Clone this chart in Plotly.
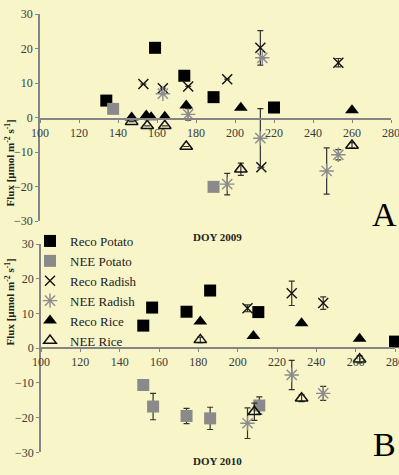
import plotly.graph_objects as go

# ---------------- DATA ----------------
# 2009 (panel A)
reco_potato_09_doy = [134, 159, 174, 189, 220]
reco_potato_09 = [4.9, 20.2, 12.1, 5.9, 2.9]

nee_potato_09_doy = [137.5, 189]
nee_potato_09 = [2.5, -20.1]

reco_radish_09_doy = [153, 163, 176, 196, 213, 213.5, 253]
reco_radish_09 = [9.7, 8.5, 9.0, 11.1, 20.2, -14.4, 15.9]
reco_radish_09_err = [0, 0, 0, 0, 5.0, 0, 1.2]

nee_radish_09_doy = [163, 176, 196, 213, 214, 247, 253]
nee_radish_09 = [6.9, 0.9, -19.3, -6.0, 17.3, -15.5, -10.8]
nee_radish_09_err = [0, 1.7, 3.1, 8.6, 0, 6.7, 1.5]

reco_rice_09_doy = [147, 154.5, 157, 164, 175, 203, 260]
reco_rice_09 = [0.0, 0.6, 0.1, 0.2, 3.5, 2.8, 2.1]

nee_rice_09_doy = [147, 155, 164, 175, 203, 260]
nee_rice_09 = [-1.2, -2.4, -2.4, -8.4, -15.0, -8.1]
nee_rice_09_err = [0, 0, 0, 0, 1.8, 0.8]

# 2010 (panel B)
reco_potato_10_doy = [152, 156.5, 174, 186, 210.5, 280]
reco_potato_10 = [6.5, 11.7, 10.5, 16.6, 10.4, 1.9]

nee_potato_10_doy = [152, 157, 174, 186, 211]
nee_potato_10 = [-10.6, -16.8, -19.5, -20.2, -16.5]
nee_potato_10_err = [0, 3.8, 2.2, 3.2, 2.5]

reco_radish_10_doy = [205, 227.5, 243.5]
reco_radish_10 = [11.5, 15.8, 13.0]
reco_radish_10_err = [1.0, 3.5, 1.8]

nee_radish_10_doy = [205, 227.5, 243.5]
nee_radish_10 = [-21.6, -7.7, -13.0]
nee_radish_10_err = [4.4, 4.2, 2.0]

reco_rice_10_doy = [181, 208, 232.5, 262]
reco_rice_10 = [7.7, 3.5, 7.2, 2.7]

nee_rice_10_doy = [181, 208.5, 232.5, 262]
nee_rice_10 = [2.4, -18.3, -14.4, -3.2]
nee_rice_10_err = [0.8, 2.5, 1.0, 1.0]

x_ticks = [100, 120, 140, 160, 180, 200, 220, 240, 260, 280]
y_ticks = [-30, -20, -10, 0, 10, 20, 30]

series_names = ["Reco Potato", "NEE Potato", "Reco Radish", "NEE Radish", "Reco Rice", "NEE Rice"]
panel_labels = ["A", "B"]
axis_titles = ["DOY 2009", "DOY 2010"]

# ---------------- STYLE ----------------
W, H = 399, 475
BG = "#f8f5c8"
SERIF = "Liberation Serif, Times New Roman, serif"
AXIS_C = "#858585"
ERR_C = "#333333"

styles = {
    "Reco Potato": dict(symbol="square", size=12, color="#000000", line=dict(width=0)),
    "NEE Potato": dict(symbol="square", size=12, color="#8a8a8a", line=dict(width=0)),
    "Reco Radish": dict(symbol="x-thin-open", size=10, color="#111111", line=dict(width=1.4, color="#111111")),
    "NEE Radish": dict(symbol="asterisk-open", size=12, color="#8c8c8c", line=dict(width=1.4, color="#8c8c8c")),
    "Reco Rice": dict(symbol="triangle-up", size=12, color="#000000", line=dict(width=0)),
    "NEE Rice": dict(symbol="triangle-up-open", size=11, color="#111111", line=dict(width=1.5, color="#111111")),
}

fig = go.Figure()

def add(name, xs, ys, errs, xa, ya, show):
    kw = {}
    if errs is not None:
        kw["error_y"] = dict(type="data", array=errs, visible=True, color=ERR_C,
                             thickness=1.2, width=3)
    fig.add_trace(go.Scatter(
        x=xs, y=ys, mode="markers", name=name, marker=styles[name],
        xaxis=xa, yaxis=ya, showlegend=show, cliponaxis=False, **kw))

panels = [
    ("x", "y", False, [
        (reco_potato_09_doy, reco_potato_09, None),
        (nee_potato_09_doy, nee_potato_09, None),
        (reco_radish_09_doy, reco_radish_09, reco_radish_09_err),
        (nee_radish_09_doy, nee_radish_09, nee_radish_09_err),
        (reco_rice_09_doy, reco_rice_09, None),
        (nee_rice_09_doy, nee_rice_09, nee_rice_09_err),
    ]),
    ("x2", "y2", True, [
        (reco_potato_10_doy, reco_potato_10, None),
        (nee_potato_10_doy, nee_potato_10, nee_potato_10_err),
        (reco_radish_10_doy, reco_radish_10, reco_radish_10_err),
        (nee_radish_10_doy, nee_radish_10, nee_radish_10_err),
        (reco_rice_10_doy, reco_rice_10, None),
        (nee_rice_10_doy, nee_rice_10, nee_rice_10_err),
    ]),
]
for xa, ya, show, data in panels:
    for name, (xs, ys, errs) in zip(series_names, data):
        add(name, xs, ys, errs, xa, ya, show)

def xaxis(domain, pos):
    return dict(domain=domain, range=[100, 280], anchor="free", position=pos,
                automargin=False, ticklabeloverflow="allow",
                showline=True, linecolor=AXIS_C, linewidth=1.5,
                ticks="outside", ticklen=3, tickcolor=AXIS_C, tickwidth=1.2,
                tickvals=x_ticks, showgrid=False, zeroline=False,
                tickfont=dict(family=SERIF, size=12, color="#3a3a3a"))

def yaxis(domain, xa):
    return dict(domain=domain, range=[-30, 30], anchor=xa, automargin=False,
                ticklabeloverflow="allow",
                showline=True, linecolor=AXIS_C, linewidth=1.5,
                ticks="outside", ticklen=3, tickcolor=AXIS_C, tickwidth=1.2,
                tickvals=y_ticks, showgrid=False, zeroline=False,
                tickfont=dict(family=SERIF, size=12, color="#3a3a3a"))

top_dom = [254 / H, 461 / H]
bot_dom = [22.6 / H, 231 / H]

fig.update_layout(
    template="none",
    width=W, height=H,
    margin=dict(l=0, r=0, t=0, b=0, autoexpand=False),
    paper_bgcolor=BG, plot_bgcolor=BG,
    xaxis=xaxis([40 / W, 391 / W], (H - 119) / H),
    yaxis=yaxis(top_dom, "x"),
    xaxis2=xaxis([41 / W, 395 / W], (H - 348.3) / H),
    yaxis2=yaxis(bot_dom, "x2"),
    legend=dict(x=30 / W, y=(H - 226) / H, xanchor="left", yanchor="top",
                bgcolor="rgba(0,0,0,0)", font=dict(family=SERIF, size=13, color="#222"),
                tracegroupgap=0, itemsizing="trace", itemwidth=30),
    showlegend=True,
)

ann = []
for lbl, yc in zip(panel_labels, [214, 444]):
    ann.append(dict(text=lbl, x=384 / W, y=(H - yc) / H, xref="paper", yref="paper",
                    xanchor="center", yanchor="middle", showarrow=False,
                    font=dict(family=SERIF, size=34, color="#000")))
for t, yc in zip(axis_titles, [237, 469]):
    ann.append(dict(text="<b>%s</b>" % t, x=217 / W, y=(H - yc) / H, xref="paper", yref="paper",
                    xanchor="center", showarrow=False, font=dict(family=SERIF, size=11, color="#222")))
for yc in [118, 348]:
    ann.append(dict(text="<b>Flux [µmol m<sup>-2</sup> s<sup>-1</sup>]</b>", x=9 / W, y=(H - yc) / H,
                    xref="paper", yref="paper", xanchor="center", textangle=-90, showarrow=False,
                    font=dict(family=SERIF, size=11, color="#222")))
fig.update_layout(annotations=ann)

fig.write_html("out.html",
               config={"displayModeBar": False},
               post_script="document.body.style.margin='0px';document.body.style.background='%s';" % BG)
